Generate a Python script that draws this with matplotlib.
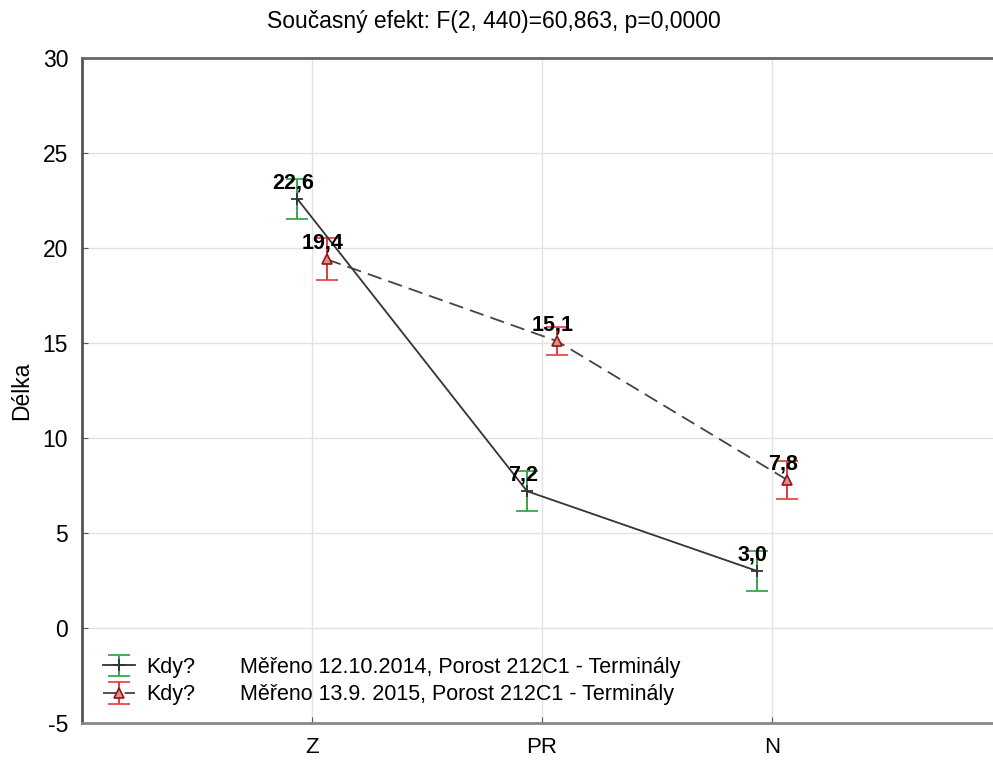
import matplotlib.pyplot as plt
from matplotlib.patches import Rectangle

plt.rcParams['font.family'] = ['Liberation Sans', 'DejaVu Sans']
plt.rcParams['axes.unicode_minus'] = False

categories = ['Z', 'PR', 'N']
mean_2014 = [22.6, 7.2, 3.0]
err_2014 = [1.05, 1.05, 1.05]
mean_2015 = [19.4, 15.1, 7.8]
err_2015 = [1.1, 0.75, 1.0]
label_2014 = 'Měřeno 12.10.2014, Porost 212C1 - Terminály'
label_2015 = 'Měřeno 13.9. 2015, Porost 212C1 - Terminály'
title = 'Současný efekt: F(2, 440)=60,863, p=0,0000'

fig = plt.figure(figsize=(9.93, 7.6), dpi=100)
ax = fig.add_axes([0.0826, 0.0487, 0.9265, 0.875])

pos = [1, 2, 3]
shift = 0.065
x1 = [p - shift for p in pos]
x2 = [p + shift for p in pos]

h1 = ax.errorbar(x1, mean_2014, yerr=err_2014, color='#333333', lw=1.3,
                 marker='+', ms=9, mew=1.3, ecolor='#3aa64a', elinewidth=1.4,
                 capsize=8, capthick=1.4, zorder=3)
h2 = ax.errorbar(x2, mean_2015, yerr=err_2015, color='#444444', lw=1.3,
                 linestyle=(0, (8, 4)), marker='^', ms=7, mfc='#e58a8a',
                 mec='#8b1a1a', mew=1.2, ecolor='#e8393a', elinewidth=1.4,
                 capsize=8, capthick=1.4, zorder=3)

# value labels above each mean
for xs, ys in [(x1, mean_2014), (x2, mean_2015)]:
    for x, y in zip(xs, ys):
        ax.annotate(f'{y:.1f}'.replace('.', ','), (x, y), xytext=(-3, 4),
                    textcoords='offset points', ha='center', va='bottom',
                    fontsize=15.5, fontweight='bold', zorder=5)

ax.set_xlim(0, 4)
ax.set_ylim(-5, 30)
ax.set_xticks(pos)
ax.set_xticklabels(categories)
ax.set_yticks(range(-5, 31, 5))
ax.tick_params(axis='both', direction='in', length=4, labelsize=16.5,
               color='#555555')
ax.tick_params(axis='x', pad=10, labelsize=16)
ax.tick_params(axis='y', pad=10)
ax.grid(True, color='#e2e2e2', lw=1)
ax.set_axisbelow(True)

ax.spines['right'].set_visible(False)
ax.spines['left'].set_color('#555555')
ax.spines['top'].set_color('#666666')
ax.spines['bottom'].set_color('#888888')
for s in ['left', 'top', 'bottom']:
    ax.spines[s].set_linewidth(2)

ax.set_ylabel('Délka', fontsize=16.5, labelpad=7)
fig.text(0.497, 0.972, title, ha='center', va='center', fontsize=16.5)

leg_kw = dict(loc='center left', frameon=False, fontsize=15.5, borderpad=0,
              borderaxespad=0, labelspacing=0.3)
leg1 = ax.legend([h1, h2], ['Kdy?', 'Kdy?'], bbox_to_anchor=(0.023, 0.063),
                 handlelength=1.5, handletextpad=0.5, **leg_kw)
ax.add_artist(leg1)
blank = [Rectangle((0, 0), 0, 0, visible=False) for _ in range(2)]
ax.legend(blank, [label_2014, label_2015], bbox_to_anchor=(0.172, 0.063),
          handlelength=0, handletextpad=0, **leg_kw)

fig.savefig('out.png', dpi=100)
